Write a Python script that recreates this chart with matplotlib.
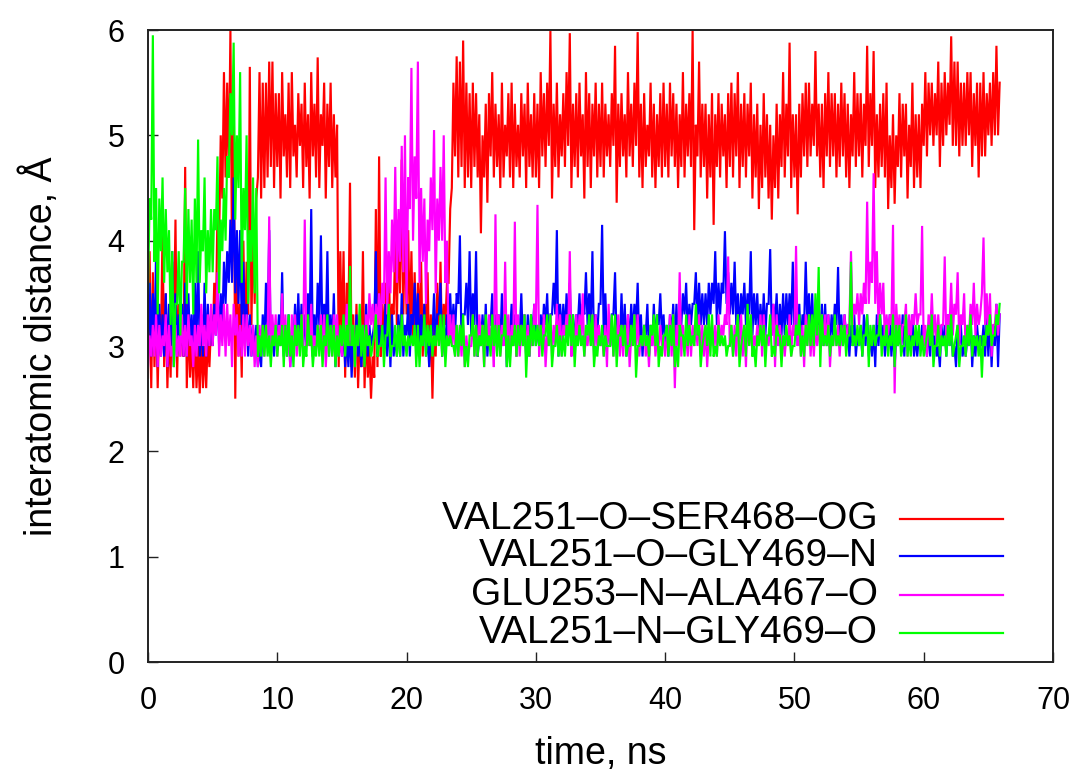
import numpy as np
import matplotlib
matplotlib.use("Agg")
import matplotlib.pyplot as plt
from matplotlib.lines import Line2D

plt.rcParams['font.family'] = ['Liberation Sans', 'DejaVu Sans']

# ---------------- data ----------------
# Each trace is very dense; it is stored as the lower / upper edge of the
# trace in 0.25 ns bins (min/max decimation).
bin_ns = 0.25

ser468_hi = (  # VAL251-O-SER468-OG
    [3.9, 3.7, 3.4, 3.3, 4.1, 3.5, 3.2, 3.8, 4.2, 3.4, 3.3, 4.7, 3.3, 3.1, 3.2, 3.0, 3.1, 3.0, 3.1, 3.2]
    + [3.6, 4.3, 5.0, 5.6, 5.5, 6.0, 5.3, 4.0, 3.4, 4.0, 3.8, 5.65, 4.2, 4.4, 5.6, 5.5, 5.5, 5.7, 5.7, 5.4]
    + [5.4, 5.6, 5.2, 5.5, 5.6, 5.1, 5.4, 5.3, 5.5, 5.2, 5.6, 5.3, 5.74, 5.2, 5.5, 5.3, 5.5, 5.2, 5.1, 3.9]
    + [3.9, 3.6, 4.55, 3.3, 3.4, 3.1, 3.9, 3.2, 3.0, 2.9, 4.3, 4.8, 3.4, 3.6, 3.8, 3.4, 4.0, 4.2, 4.77, 4.2]
    + [4.1, 3.9, 3.7, 3.6, 3.8, 3.4, 3.7, 3.3, 3.2, 3.6, 3.8, 3.4, 3.6, 4.3, 5.5, 5.75, 5.7, 5.9, 5.5, 5.4]
    + [5.5, 5.4, 5.2, 5.0, 5.3, 5.4, 5.6, 5.3, 5.2, 5.5, 5.1, 5.4, 5.5, 5.3, 5.1, 5.4, 5.3, 5.5, 5.2, 5.4]
    + [5.3, 5.6, 5.4, 5.5, 5.99, 5.3, 5.5, 5.2, 5.4, 5.6, 5.97, 5.3, 5.4, 5.5, 5.2, 5.6, 5.4, 5.3, 5.5, 5.3]
    + [5.5, 5.3, 5.2, 5.4, 5.85, 5.3, 5.4, 5.2, 5.6, 5.3, 5.5, 5.98, 5.3, 5.4, 5.1, 5.5, 5.3, 5.2, 5.4, 5.5]
    + [5.3, 5.5, 5.4, 5.3, 5.2, 5.6, 5.3, 5.4, 6.0, 5.1, 5.7, 5.3, 5.3, 5.2, 5.4, 5.2, 5.4, 5.3, 5.2, 5.4]
    + [5.5, 5.4, 5.6, 5.3, 5.4, 5.3, 5.5, 5.2, 5.3, 5.1, 5.4, 5.2, 5.1, 5.0, 5.3, 5.2, 5.6, 5.3, 5.88, 5.2]
    + [5.2, 5.3, 5.4, 5.5, 5.5, 5.3, 5.8, 5.3, 5.3, 5.4, 5.6, 5.4, 5.4, 5.3, 5.5, 5.4, 5.3, 5.2, 5.6, 5.4]
    + [5.4, 5.3, 5.85, 5.4, 5.8, 5.2, 5.3, 5.4, 5.5, 5.0, 5.2, 5.0, 5.4, 5.3, 5.3, 5.1, 5.5, 5.2, 5.2, 5.3]
    + [5.6, 5.5, 5.5, 5.4, 5.7, 5.5, 5.6, 5.5, 5.94, 5.7, 5.7, 5.5, 5.5, 5.6, 5.6, 5.4, 5.5, 5.5, 5.6, 5.4,
       5.5, 5.6, 5.85, 5.5]
)
ser468_lo = (
    [2.7, 2.6, 2.8, 2.6, 3.0, 2.8, 2.6, 2.7, 3.1, 2.7, 2.9, 2.9, 2.6, 2.7, 2.6, 2.6, 2.55, 2.6, 2.6, 2.8]
    + [3.0, 3.2, 4.0, 4.4, 4.6, 4.6, 3.8, 2.5, 2.9, 2.7, 3.0, 3.3, 3.2, 3.4, 4.6, 4.4, 4.5, 4.6, 4.7, 4.5]
    + [4.7, 4.4, 4.8, 4.6, 4.5, 4.8, 4.6, 4.9, 4.5, 4.7, 4.4, 4.8, 4.6, 4.5, 4.9, 4.4, 4.7, 4.5, 4.6, 2.8]
    + [3.0, 2.7, 3.2, 2.8, 2.7, 2.6, 2.8, 2.6, 2.7, 2.5, 2.7, 2.8, 2.9, 3.0, 3.1, 3.0, 3.3, 3.2, 3.5, 3.3]
    + [3.3, 3.1, 3.0, 2.9, 3.2, 2.9, 3.1, 2.8, 2.5, 2.9, 3.0, 2.9, 3.2, 3.6, 4.5, 4.8, 4.6, 4.7, 4.5, 4.6]
    + [4.5, 4.7, 4.6, 4.07, 4.6, 4.36, 4.8, 4.6, 4.7, 4.5, 4.6, 4.8, 4.6, 4.5, 4.7, 4.6, 4.8, 4.5, 4.7, 4.6]
    + [4.6, 4.5, 4.8, 4.7, 4.9, 4.4, 4.7, 4.6, 4.8, 4.7, 4.9, 4.5, 4.7, 4.6, 4.8, 4.4, 4.7, 4.5, 4.8, 4.6]
    + [4.7, 4.6, 4.8, 4.7, 4.9, 4.36, 4.7, 4.8, 4.6, 4.8, 4.7, 4.9, 4.6, 4.5, 4.7, 4.8, 4.6, 4.5, 4.7, 4.6]
    + [4.7, 4.6, 4.8, 4.7, 4.5, 4.7, 4.6, 4.8, 4.7, 4.1, 4.8, 4.6, 4.7, 4.4, 4.6, 4.15, 4.7, 4.6, 4.8, 4.5]
    + [4.7, 4.6, 4.8, 4.5, 4.7, 4.6, 4.8, 4.4, 4.6, 4.3, 4.5, 4.6, 4.4, 4.2, 4.5, 4.4, 4.7, 4.6, 4.8, 4.5]
    + [4.6, 4.25, 4.6, 4.8, 4.7, 4.8, 4.9, 4.8, 4.6, 4.5, 4.8, 4.7, 4.8, 4.6, 4.7, 4.8, 4.6, 4.5, 4.8, 4.7]
    + [4.8, 4.6, 4.9, 4.7, 4.9, 4.5, 4.6, 4.7, 4.6, 4.3, 4.5, 4.35, 4.7, 4.6, 4.8, 4.4, 4.7, 4.5, 4.6, 4.5]
    + [4.9, 4.8, 5.0, 4.9, 5.0, 4.7, 4.9, 5.0, 5.1, 4.9, 4.9, 4.8, 4.9, 4.9, 5.0, 4.7, 4.9, 4.6, 4.8, 4.8,
       5.0, 4.9, 5.0, 5.0]
)

gly469n_hi = (  # VAL251-O-GLY469-N
    [3.6, 3.5, 3.9, 3.4, 3.3, 3.5, 3.4, 3.9, 3.5, 3.3, 3.4, 3.6, 3.5, 3.3, 3.6, 3.9, 3.3, 3.6, 3.4, 3.3]
    + [3.4, 3.6, 3.5, 3.8, 3.9, 4.2, 4.6, 4.1, 4.1, 3.8, 3.4, 3.3, 3.2, 3.2, 3.0, 3.3, 3.6, 4.1, 3.2, 3.2]
    + [3.3, 3.7, 3.2, 3.3, 3.1, 3.4, 3.5, 3.4, 3.3, 3.5, 4.3, 3.3, 3.6, 4.05, 3.4, 3.9, 3.3, 3.5, 3.2, 3.1]
    + [3.2, 3.1, 3.2, 3.1, 3.3, 3.1, 3.1, 3.4, 3.2, 3.1, 3.9, 3.2, 3.2, 3.4, 3.3, 3.3, 3.1, 3.3, 3.5, 3.2]
    + [3.4, 3.3, 3.6, 3.5, 3.3, 3.4, 3.1, 3.2, 3.5, 3.3, 3.6, 3.2, 3.3, 3.5, 3.4, 3.5, 4.05, 3.3, 3.6, 3.9]
    + [3.5, 3.9, 3.1, 3.3, 3.4, 3.2, 3.5, 3.3, 3.3, 3.5, 3.4, 3.1, 3.4, 3.3, 3.2, 3.5, 3.3, 3.3, 3.3, 3.4]
    + [3.2, 3.3, 3.4, 3.5, 3.3, 3.6, 4.1, 3.4, 3.4, 3.5, 3.6, 3.3, 3.3, 3.5, 3.4, 3.7, 3.5, 3.9, 3.3, 3.4]
    + [4.15, 3.5, 3.2, 3.3, 3.7, 3.2, 3.5, 3.4, 3.3, 3.4, 3.4, 3.6, 3.3, 3.2, 3.4, 3.2, 3.4, 3.3, 3.5, 3.3]
    + [3.2, 3.3, 3.4, 3.4, 3.3, 3.5, 3.6, 3.4, 3.4, 3.7, 3.6, 3.5, 3.5, 3.6, 3.6, 3.9, 3.6, 3.6, 4.09, 3.7]
    + [3.6, 3.8, 3.5, 3.5, 3.6, 3.5, 3.9, 3.5, 3.5, 3.4, 3.5, 3.4, 3.92, 3.4, 3.5, 3.4, 3.5, 3.5, 3.5, 3.8]
    + [3.4, 3.4, 3.3, 3.8, 3.5, 3.5, 3.3, 3.3, 3.4, 3.4, 3.3, 3.3, 3.4, 3.75, 3.3, 3.3, 3.2, 3.2, 3.3, 3.1]
    + [3.2, 3.3, 3.3, 3.1, 3.2, 3.3, 3.3, 3.2, 3.1, 3.3, 3.2, 3.1, 3.1, 3.3, 3.3, 3.2, 3.3, 3.1, 3.1, 3.2]
    + [3.1, 3.2, 3.3, 3.1, 3.0, 3.2, 3.2, 3.3, 3.2, 3.0, 3.2, 3.2, 3.0, 3.1, 3.3, 3.1, 3.2, 3.1, 3.2, 3.3,
       3.3, 3.2, 3.4, 3.3]
)
gly469n_lo = (
    [3.0, 2.9, 3.0, 2.8, 2.9, 2.9, 2.8, 3.0, 2.8, 2.9, 3.0, 2.9, 2.9, 3.0, 2.9, 3.0, 2.9, 2.9, 2.9, 3.0]
    + [3.0, 3.1, 3.0, 3.2, 3.4, 3.6, 3.6, 3.5, 3.4, 3.2, 3.1, 2.9, 2.9, 2.9, 2.8, 2.8, 3.0, 3.1, 2.9, 2.9]
    + [3.0, 3.0, 2.9, 2.9, 2.8, 3.0, 3.0, 3.0, 3.0, 3.0, 3.1, 2.9, 3.0, 3.2, 3.0, 3.1, 2.9, 3.0, 2.8, 2.9]
    + [2.9, 2.8, 2.8, 2.7, 2.9, 2.9, 2.8, 2.9, 2.9, 3.0, 3.2, 2.9, 3.0, 3.0, 2.9, 2.8, 2.9, 2.9, 2.9, 2.9]
    + [3.1, 2.9, 3.2, 3.1, 3.0, 3.0, 2.9, 2.8, 3.1, 3.0, 3.3, 2.9, 3.0, 3.0, 3.1, 3.1, 3.4, 3.0, 3.3, 3.2]
    + [3.1, 3.2, 2.9, 3.0, 3.0, 2.9, 3.2, 2.9, 3.0, 3.0, 3.0, 2.8, 3.1, 3.0, 2.9, 3.1, 3.0, 2.9, 2.9, 3.1]
    + [3.0, 3.0, 3.1, 3.2, 3.0, 3.3, 3.3, 2.9, 3.1, 3.1, 3.2, 3.0, 3.0, 3.2, 3.1, 3.3, 3.2, 3.2, 3.0, 3.1]
    + [3.4, 3.1, 3.0, 3.0, 3.3, 3.0, 3.0, 3.0, 2.9, 3.0, 3.1, 3.2, 3.0, 2.9, 3.1, 2.9, 3.0, 3.0, 3.2, 3.1]
    + [3.0, 2.9, 3.1, 3.0, 3.0, 3.2, 3.3, 3.1, 3.2, 3.4, 3.2, 3.2, 3.2, 3.2, 3.3, 3.4, 3.2, 3.3, 3.5, 3.4]
    + [3.3, 3.3, 3.2, 3.1, 3.3, 3.2, 3.3, 3.1, 3.2, 3.1, 3.1, 3.1, 3.4, 3.1, 3.2, 3.0, 3.1, 3.1, 3.2, 3.2]
    + [3.1, 3.0, 3.0, 3.2, 3.2, 3.1, 3.0, 3.0, 3.1, 3.0, 3.0, 3.0, 3.1, 3.2, 3.0, 3.0, 3.1, 2.9, 3.0, 2.9]
    + [3.0, 2.9, 3.0, 2.9, 2.9, 2.8, 3.0, 3.0, 2.9, 3.0, 2.9, 2.8, 3.0, 3.0, 2.9, 3.0, 3.0, 2.9, 2.9, 3.0]
    + [3.0, 2.9, 2.9, 3.0, 2.9, 2.8, 3.0, 2.9, 3.0, 2.9, 2.8, 3.0, 2.9, 2.9, 3.0, 2.8, 2.9, 3.0, 3.0, 2.9,
       2.9, 2.8, 3.0, 2.8]
)

ala467_hi = (  # GLU253-N-ALA467-O
    [3.1, 3.2, 3.3, 3.2, 3.1, 3.3, 3.2, 3.0, 3.2, 3.1, 3.3, 3.2, 3.3, 3.1, 3.2, 3.2, 3.4, 3.2, 3.3, 3.4]
    + [3.3, 3.7, 3.3, 3.4, 3.4, 3.3, 3.4, 3.3, 3.2, 3.3, 3.3, 3.2, 3.2, 3.1, 3.2, 3.2, 3.2, 4.23, 3.3, 3.3]
    + [3.2, 3.5, 3.3, 3.2, 3.3, 3.3, 3.1, 3.3, 4.2, 3.1, 3.4, 3.1, 3.2, 3.3, 3.3, 3.1, 3.2, 3.3, 3.3, 3.1]
    + [3.2, 3.4, 3.2, 3.2, 3.1, 3.3, 3.2, 3.3, 3.5, 3.4, 3.4, 3.5, 3.6, 4.6, 3.9, 4.2, 4.7, 4.3, 4.9, 5.0]
    + [4.6, 5.64, 4.8, 5.7, 4.5, 4.4, 4.2, 4.6, 5.05, 4.4, 4.7, 5.0, 4.0, 3.3, 3.3, 3.2, 3.2, 3.2, 3.1, 3.0]
    + [3.3, 3.2, 3.3, 3.2, 3.2, 3.3, 3.2, 4.25, 3.3, 3.2, 3.8, 3.3, 3.2, 4.18, 3.3, 3.2, 3.3, 3.2, 3.1, 3.4]
    + [4.34, 3.2, 3.3, 3.1, 3.3, 3.2, 3.4, 3.3, 3.2, 3.3, 3.9, 3.2, 3.3, 3.3, 3.5, 3.1, 3.2, 3.3, 3.3, 3.2]
    + [3.1, 3.2, 3.4, 3.2, 3.2, 3.3, 3.2, 3.2, 3.3, 3.1, 3.3, 3.3, 3.1, 3.2, 3.1, 3.2, 3.2, 3.1, 3.2, 3.1]
    + [3.1, 3.3, 3.3, 3.2, 3.7, 3.2, 3.1, 3.3, 3.2, 3.2, 3.3, 3.2, 3.2, 3.1, 3.2, 3.2, 3.3, 3.2, 3.3, 3.85]
    + [3.2, 3.2, 3.3, 3.3, 3.2, 3.3, 3.3, 3.1, 3.2, 3.3, 3.3, 3.1, 3.2, 3.4, 3.3, 3.2, 3.1, 3.1, 3.3, 3.2]
    + [3.95, 3.2, 3.2, 3.3, 3.3, 3.2, 3.2, 3.2, 3.3, 3.3, 3.3, 3.1, 3.2, 3.2, 3.2, 3.3, 3.2, 3.9, 3.4, 3.5]
    + [3.5, 3.6, 4.37, 3.8, 4.64, 3.9, 3.6, 3.6, 3.3, 3.3, 4.15, 3.4, 3.3, 3.2, 3.4, 3.3, 3.3, 3.5, 3.3, 4.14]
    + [3.2, 3.3, 3.5, 3.3, 3.3, 3.2, 3.85, 3.3, 3.6, 3.4, 3.7, 3.3, 3.5, 3.2, 3.4, 3.6, 3.4, 3.3, 4.03, 3.5,
       3.5, 3.2, 3.4, 3.3]
)
ala467_lo = (
    [2.8, 2.9, 2.9, 2.8, 2.9, 3.0, 2.8, 2.9, 2.8, 2.9, 2.9, 2.9, 2.9, 3.0, 2.8, 2.9, 3.0, 3.0, 2.9, 3.0]
    + [3.0, 3.1, 2.9, 3.0, 2.9, 3.0, 2.8, 3.1, 2.9, 2.9, 2.9, 3.0, 2.9, 2.8, 2.8, 3.0, 2.9, 3.0, 2.9, 3.0]
    + [2.9, 3.0, 3.0, 2.9, 2.8, 2.9, 2.9, 3.0, 3.0, 3.0, 3.0, 2.9, 3.0, 3.0, 2.9, 2.8, 3.0, 2.9, 3.0, 2.9]
    + [2.9, 3.0, 3.0, 3.0, 2.8, 3.0, 3.0, 2.9, 3.1, 3.2, 3.1, 3.2, 3.2, 3.4, 3.3, 3.5, 3.7, 3.6, 3.8, 3.7]
    + [3.4, 4.3, 4.0, 4.4, 3.6, 3.8, 3.4, 3.9, 4.1, 3.5, 4.0, 4.0, 3.6, 3.0, 3.0, 2.9, 2.9, 2.9, 2.8, 2.9]
    + [3.0, 2.9, 2.9, 3.1, 2.8, 3.0, 3.0, 2.8, 3.0, 2.9, 3.0, 2.9, 2.9, 3.0, 2.9, 2.9, 3.0, 2.9, 2.9, 3.0]
    + [3.2, 2.9, 3.0, 2.8, 3.0, 2.9, 3.0, 3.0, 2.9, 3.1, 3.1, 2.9, 2.9, 3.0, 3.1, 2.9, 3.0, 3.0, 2.9, 3.0]
    + [3.0, 2.9, 2.8, 3.0, 2.9, 3.0, 2.9, 2.9, 3.0, 2.8, 3.0, 3.0, 2.9, 3.0, 2.9, 2.8, 3.0, 2.9, 3.0, 3.0]
    + [2.9, 3.0, 2.9, 2.6, 3.0, 2.9, 3.0, 2.9, 2.9, 3.0, 3.0, 2.9, 2.9, 2.8, 3.0, 3.0, 2.9, 3.0, 3.1, 3.2]
    + [3.0, 2.9, 2.9, 3.0, 2.9, 2.8, 3.0, 2.9, 3.0, 3.0, 2.9, 3.0, 3.0, 3.1, 2.8, 3.0, 3.0, 2.9, 3.0, 2.9]
    + [3.1, 3.0, 2.9, 2.8, 3.0, 2.9, 2.9, 3.0, 3.0, 3.0, 3.0, 2.8, 3.0, 3.0, 2.9, 3.0, 3.0, 3.2, 3.2, 3.3]
    + [3.2, 3.3, 3.4, 3.4, 3.6, 3.4, 3.2, 3.3, 3.0, 3.1, 3.2, 2.55, 3.1, 3.0, 3.2, 2.9, 3.1, 3.2, 3.2, 3.3]
    + [3.0, 2.9, 3.1, 3.1, 3.0, 3.0, 3.2, 3.0, 3.2, 3.1, 3.3, 3.0, 3.2, 2.9, 3.1, 3.2, 3.1, 3.2, 3.5, 3.2,
       3.1, 2.9, 3.2, 3.1]
)

gly469o_hi = (  # VAL251-N-GLY469-O
    [4.4, 5.95, 4.5, 4.4, 4.6, 4.3, 4.1, 3.9, 3.4, 3.9, 3.8, 4.5, 4.3, 4.2, 4.4, 4.96, 4.1, 4.6, 4.1, 4.3]
    + [4.3, 4.8, 4.2, 4.5, 4.8, 5.4, 5.88, 5.0, 5.6, 4.5, 5.0, 4.1, 4.6, 4.5, 3.1, 3.2, 3.2, 3.1, 3.1, 3.2]
    + [3.1, 3.2, 3.2, 3.3, 3.1, 3.2, 3.2, 3.3, 3.0, 3.3, 3.1, 3.0, 3.2, 3.2, 3.1, 3.3, 3.2, 3.2, 3.1, 3.2]
    + [3.3, 3.2, 3.76, 3.2, 3.2, 3.4, 3.2, 3.2, 3.1, 3.0, 3.3, 3.0, 3.2, 3.1, 3.4, 3.0, 3.2, 3.2, 3.3, 3.1]
    + [3.1, 3.1, 3.2, 3.2, 3.1, 3.3, 3.2, 3.2, 3.1, 3.2, 3.3, 3.3, 3.1, 3.1, 3.0, 3.2, 3.2, 3.3, 3.0, 3.1]
    + [3.3, 3.2, 3.1, 3.2, 3.3, 3.1, 3.3, 3.2, 3.2, 3.1, 3.3, 3.1, 3.1, 3.2, 3.2, 3.2, 3.3, 3.1, 3.3, 3.2]
    + [3.2, 3.2, 3.1, 3.3, 3.3, 3.0, 3.2, 3.1, 3.1, 3.2, 3.3, 3.3, 3.1, 3.2, 3.1, 3.2, 3.3, 3.3, 3.0, 3.1]
    + [3.2, 3.1, 3.0, 3.3, 3.3, 3.1, 3.2, 3.2, 3.0, 3.2, 3.3, 3.0, 3.1, 3.2, 3.1, 3.2, 3.3, 3.3, 3.0, 3.1]
    + [3.2, 3.2, 3.3, 3.0, 3.2, 3.1, 3.3, 3.2, 3.1, 3.4, 3.2, 3.0, 3.2, 3.3, 3.3, 3.0, 3.2, 3.1, 3.1, 3.0]
    + [3.2, 3.1, 3.3, 3.0, 3.2, 3.4, 3.3, 3.0, 3.1, 3.2, 3.2, 3.1, 3.3, 3.0, 3.2, 3.1, 3.1, 3.2, 3.1, 3.0]
    + [3.2, 3.3, 3.1, 3.2, 3.3, 3.3, 3.5, 3.75, 3.3, 3.1, 3.2, 3.1, 3.3, 3.1, 3.2, 3.2, 3.1, 3.8, 3.1, 3.2]
    + [3.2, 3.1, 3.3, 3.2, 3.2, 3.1, 3.3, 3.1, 3.2, 3.1, 3.3, 3.2, 3.2, 3.0, 3.3, 3.1, 3.1, 3.2, 3.2, 3.1]
    + [3.0, 3.2, 3.3, 3.0, 3.2, 3.1, 3.1, 3.2, 3.3, 3.0, 3.2, 3.0, 3.1, 3.2, 3.3, 3.1, 3.1, 3.1, 3.1, 3.2,
       3.3, 3.1, 3.3, 3.4]
)
gly469o_lo = (
    [3.5, 4.2, 3.8, 3.3, 3.9, 3.6, 3.7, 3.2, 2.8, 3.4, 3.1, 3.8, 3.4, 3.6, 3.3, 3.6, 3.6, 3.9, 3.5, 3.7]
    + [3.7, 4.1, 3.5, 3.9, 4.0, 4.6, 5.0, 4.2, 4.5, 3.6, 4.1, 3.4, 3.8, 3.5, 2.9, 2.9, 2.9, 2.9, 2.8, 3.0]
    + [2.9, 3.0, 2.8, 2.9, 2.9, 2.8, 3.0, 2.9, 2.8, 2.9, 3.0, 2.8, 2.9, 2.9, 2.8, 3.0, 2.9, 2.9, 2.8, 2.9]
    + [3.0, 2.9, 3.0, 3.0, 2.8, 3.0, 2.9, 2.8, 3.0, 2.9, 3.1, 2.9, 3.0, 2.8, 3.1, 2.9, 3.0, 2.9, 2.9, 3.0]
    + [2.9, 3.0, 3.0, 2.8, 2.8, 3.0, 2.9, 3.0, 2.9, 3.0, 3.0, 2.9, 2.8, 3.0, 3.0, 2.9, 2.9, 3.0, 2.8, 2.8]
    + [3.1, 2.9, 2.9, 3.0, 2.8, 3.0, 2.9, 3.0, 2.9, 2.9, 3.1, 2.8, 2.8, 3.0, 2.9, 3.0, 3.0, 2.7, 2.9, 3.0]
    + [3.0, 3.0, 2.9, 3.1, 3.0, 2.8, 3.0, 2.9, 2.9, 2.9, 3.0, 3.0, 2.8, 3.0, 3.0, 2.9, 3.1, 3.0, 2.8, 2.9]
    + [3.0, 2.9, 3.0, 3.0, 2.9, 2.8, 3.1, 3.0, 2.9, 3.0, 3.0, 2.7, 3.0, 3.0, 3.0, 2.9, 3.1, 3.0, 2.8, 2.9]
    + [3.1, 2.9, 3.0, 2.8, 2.8, 3.1, 2.9, 3.0, 3.0, 3.0, 3.1, 2.8, 3.1, 3.0, 2.9, 2.9, 2.9, 3.0, 3.0, 2.9]
    + [3.0, 2.9, 3.1, 2.8, 3.1, 2.9, 3.0, 2.9, 2.8, 3.0, 3.0, 2.8, 3.1, 2.9, 2.9, 3.1, 2.8, 3.0, 3.0, 2.9]
    + [3.0, 3.1, 2.9, 2.9, 3.0, 3.0, 3.0, 3.1, 2.8, 3.0, 3.0, 2.9, 3.0, 3.0, 3.0, 3.0, 2.9, 3.1, 3.0, 3.0]
    + [3.0, 2.9, 3.1, 2.8, 3.0, 3.0, 3.1, 2.9, 3.0, 2.9, 3.0, 2.8, 3.0, 2.9, 3.0, 2.9, 2.9, 3.0, 3.0, 2.9]
    + [2.9, 3.1, 3.0, 2.8, 3.0, 2.9, 3.0, 2.9, 3.0, 2.9, 3.1, 2.8, 3.0, 2.9, 3.0, 2.9, 3.0, 2.9, 2.7, 3.0,
       3.1, 3.0, 3.1, 3.2]
)

labels = ["VAL251\u2013O\u2013SER468\u2013OG", "VAL251\u2013O\u2013GLY469\u2013N",
          "GLU253\u2013N\u2013ALA467\u2013O", "VAL251\u2013N\u2013GLY469\u2013O"]
series = [(ser468_lo, ser468_hi), (gly469n_lo, gly469n_hi),
          (ala467_lo, ala467_hi), (gly469o_lo, gly469o_hi)]
colors = ["#ff0000", "#0000ff", "#ff00ff", "#00ff00"]

x_ticks = [0, 10, 20, 30, 40, 50, 60, 70]
y_ticks = [0, 1, 2, 3, 4, 5, 6]

# ---------------- figure ----------------
W, H = 1076, 781
fig = plt.figure(figsize=(W / 100, H / 100), dpi=100)
ax = fig.add_axes([148 / W, (H - 662) / H, 905 / W, 632 / H])

for (lo, hi), col in zip(series, colors):
    n = min(len(lo), len(hi))
    t = np.arange(n) * bin_ns
    x = np.empty(2 * n)
    y = np.empty(2 * n)
    x[0::2] = t
    x[1::2] = t + bin_ns / 2
    y[0::2] = lo[:n]
    y[1::2] = hi[:n]
    ax.plot(x, y, color=col, lw=1.55, solid_joinstyle='miter')

ax.set_xlim(0, 70)
ax.set_ylim(0, 6)
ax.set_xticks(x_ticks)
ax.set_yticks(y_ticks)
ax.tick_params(direction='in', length=7, width=1.0, labelsize=22, color='#222222')
ax.tick_params(axis='x', pad=17)
ax.tick_params(axis='y', pad=17)
for sp in ax.spines.values():
    sp.set_linewidth(1.4)
    sp.set_color('#222222')

ax.set_xlabel("time, ns", fontsize=27)
ax.xaxis.set_label_coords(0.5, -0.117)
ax.set_ylabel("interatomic distance, \u00c5", fontsize=27)
ax.yaxis.set_label_coords(-0.097, 0.5)

# legend (manual, gnuplot style: text right-aligned, sample to the right)
leg_y = [519, 556, 595, 633]
for lab, col, yy in zip(labels, colors, leg_y):
    fy = 1 - yy / H
    fig.text(878 / W, fy, lab, ha='right', va='center', fontsize=28)
    fig.add_artist(Line2D([900 / W, 1003 / W], [fy, fy], transform=fig.transFigure,
                          color=col, lw=1.6))

fig.savefig("out.png", dpi=100)
